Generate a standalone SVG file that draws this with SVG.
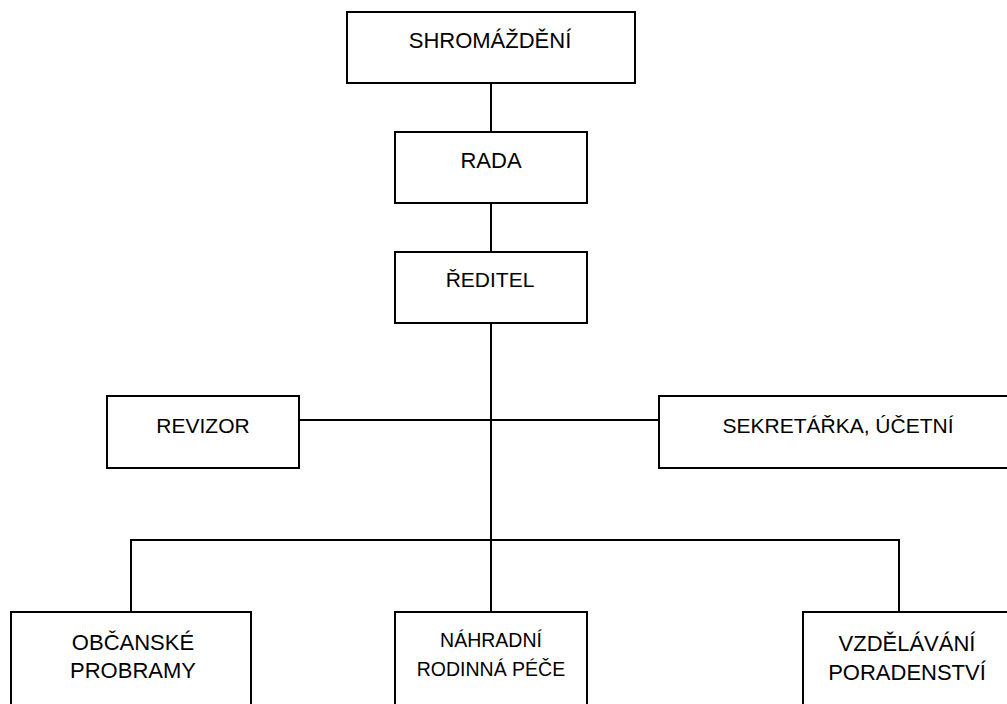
<svg xmlns="http://www.w3.org/2000/svg" width="1007" height="704" viewBox="0 0 1007 704">
<style>
.box{fill:#fff;stroke:#000;stroke-width:2}
.ln{stroke:#000;stroke-width:2;fill:none}
.t{font-family:"Liberation Sans",Arial,sans-serif;font-size:21px;fill:#000;text-anchor:middle}
.l{font-size:22px}
.s{font-size:19.5px}
</style>
<rect width="1007" height="704" fill="#fff"/>
<g id="connectors">
<line class="ln" x1="491" y1="83" x2="491" y2="132"/>
<line class="ln" x1="491" y1="203" x2="491" y2="252"/>
<line class="ln" x1="491" y1="323" x2="491" y2="612"/>
<line class="ln" x1="299" y1="420" x2="659" y2="420"/>
<line class="ln" x1="131" y1="540" x2="899" y2="540"/>
<line class="ln" x1="131" y1="539" x2="131" y2="612"/>
<line class="ln" x1="899" y1="539" x2="899" y2="612"/>
</g>
<g id="shromazdeni">
<rect class="box" x="347" y="12" width="288" height="71"/>
<text class="t l" x="490" y="48">SHROMÁŽDĚNÍ</text>
</g>
<g id="rada">
<rect class="box" x="395" y="132" width="192" height="71"/>
<text class="t l" x="491" y="168">RADA</text>
</g>
<g id="reditel">
<rect class="box" x="395" y="252" width="192" height="71"/>
<text class="t" x="490" y="287">ŘEDITEL</text>
</g>
<g id="revizor">
<rect class="box" x="107" y="396" width="192" height="72"/>
<text class="t" x="203" y="433">REVIZOR</text>
</g>
<g id="sekretarka">
<rect class="box" x="659" y="396" width="360" height="72"/>
<text class="t" x="838" y="433">SEKRETÁŘKA, ÚČETNÍ</text>
</g>
<g id="obcanske">
<rect class="box" x="11" y="612" width="240" height="110"/>
<text class="t l" x="133" y="650">OBČANSKÉ</text>
<text class="t l" x="133" y="678">PROBRAMY</text>
</g>
<g id="nahradni">
<rect class="box" x="395" y="612" width="192" height="110"/>
<text class="t s" x="491" y="647">NÁHRADNÍ</text>
<text class="t s" x="491" y="676">RODINNÁ PÉČE</text>
</g>
<g id="vzdelavani">
<rect class="box" x="803" y="612" width="220" height="110"/>
<text class="t l" x="907" y="651">VZDĚLÁVÁNÍ</text>
<text class="t l" x="907" y="680">PORADENSTVÍ</text>
</g>
</svg>
